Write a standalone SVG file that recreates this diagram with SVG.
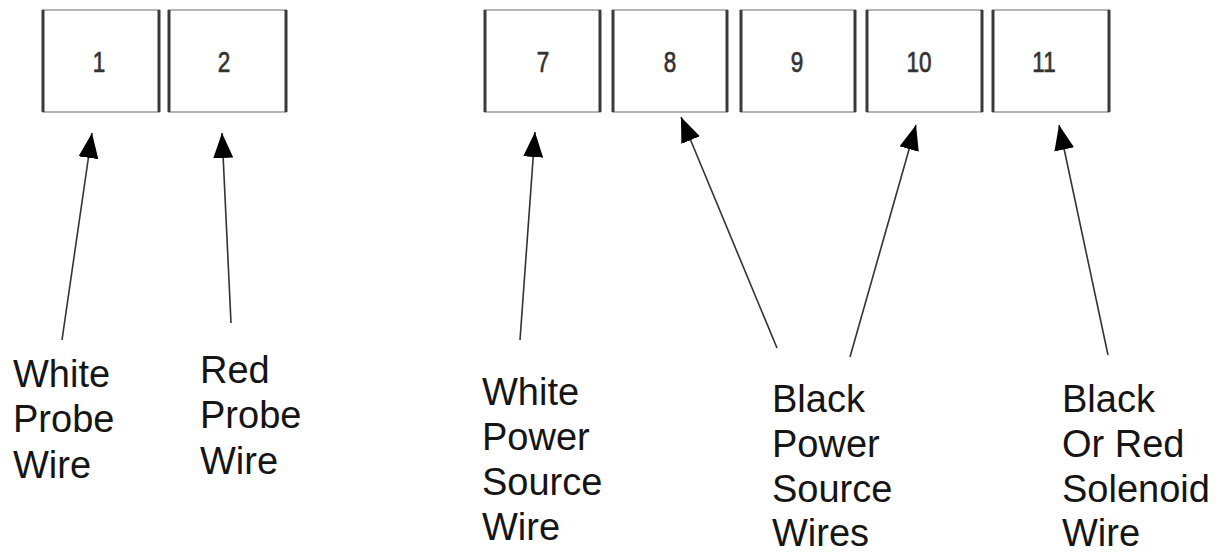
<svg xmlns="http://www.w3.org/2000/svg" width="1227" height="552" viewBox="0 0 1227 552">
  <style>
    .frame { fill: #ffffff; stroke: #b4b4b4; stroke-width: 2; }
    .side { stroke: #3a3a3a; stroke-width: 3; }
    .num { font-family: "Liberation Sans", Arial, sans-serif; font-size: 30px; fill: #333333; stroke: #333333; stroke-width: 0.7; text-anchor: middle; }
    .label { font-family: "Liberation Sans", Arial, sans-serif; font-size: 38px; fill: #151515; }
    .wire { stroke: #333333; stroke-width: 1.6; fill: none; marker-end: url(#head); }
  </style>
  <defs>
    <marker id="head" markerUnits="userSpaceOnUse" markerWidth="26" markerHeight="20" refX="25" refY="10" orient="auto">
      <path d="M0,0 L25,10 L0,20 Z" fill="#000000"/>
    </marker>
  </defs>
  <rect width="1227" height="552" fill="#ffffff"/>

  <!-- terminal blocks -->
  <g id="t1">
    <rect class="frame" x="43" y="10" width="116" height="102"/>
    <line class="side" x1="43" y1="10" x2="43" y2="112"/>
    <line class="side" x1="159" y1="10" x2="159" y2="112"/>
    <text class="num" transform="translate(99,72) scale(0.75,1)">1</text>
  </g>
  <g id="t2">
    <rect class="frame" x="169" y="10" width="117" height="102"/>
    <line class="side" x1="169" y1="10" x2="169" y2="112"/>
    <line class="side" x1="286" y1="10" x2="286" y2="112"/>
    <text class="num" transform="translate(224,72) scale(0.75,1)">2</text>
  </g>
  <g id="t7">
    <rect class="frame" x="485" y="10" width="115" height="102"/>
    <line class="side" x1="485" y1="10" x2="485" y2="112"/>
    <line class="side" x1="600" y1="10" x2="600" y2="112"/>
    <text class="num" transform="translate(543,72) scale(0.75,1)">7</text>
  </g>
  <g id="t8">
    <rect class="frame" x="613" y="10" width="114" height="102"/>
    <line class="side" x1="613" y1="10" x2="613" y2="112"/>
    <line class="side" x1="727" y1="10" x2="727" y2="112"/>
    <text class="num" transform="translate(670,72) scale(0.75,1)">8</text>
  </g>
  <g id="t9">
    <rect class="frame" x="741" y="10" width="114" height="102"/>
    <line class="side" x1="741" y1="10" x2="741" y2="112"/>
    <line class="side" x1="855" y1="10" x2="855" y2="112"/>
    <text class="num" transform="translate(797,72) scale(0.75,1)">9</text>
  </g>
  <g id="t10">
    <rect class="frame" x="867" y="10" width="115" height="102"/>
    <line class="side" x1="867" y1="10" x2="867" y2="112"/>
    <line class="side" x1="982" y1="10" x2="982" y2="112"/>
    <text class="num" transform="translate(919,72) scale(0.75,1)">10</text>
  </g>
  <g id="t11">
    <rect class="frame" x="993" y="10" width="116" height="102"/>
    <line class="side" x1="993" y1="10" x2="993" y2="112"/>
    <line class="side" x1="1109" y1="10" x2="1109" y2="112" stroke="#6a6a6a"/>
    <text class="num" transform="translate(1044,72) scale(0.75,1)">11</text>
  </g>

  <!-- wire labels -->
  <g id="lbl-white-probe">
    <text class="label" x="13" y="387">White</text>
    <text class="label" x="13" y="432">Probe</text>
    <text class="label" x="13" y="478">Wire</text>
  </g>
  <g id="lbl-red-probe">
    <text class="label" x="200" y="383">Red</text>
    <text class="label" x="200" y="428">Probe</text>
    <text class="label" x="200" y="474">Wire</text>
  </g>
  <g id="lbl-white-power">
    <text class="label" x="482" y="405">White</text>
    <text class="label" x="482" y="450">Power</text>
    <text class="label" x="482" y="495">Source</text>
    <text class="label" x="482" y="540">Wire</text>
  </g>
  <g id="lbl-black-power">
    <text class="label" x="772" y="412">Black</text>
    <text class="label" x="772" y="457">Power</text>
    <text class="label" x="772" y="502">Source</text>
    <text class="label" x="772" y="546">Wires</text>
  </g>
  <g id="lbl-solenoid">
    <text class="label" x="1062" y="412">Black</text>
    <text class="label" x="1062" y="457">Or Red</text>
    <text class="label" x="1062" y="502">Solenoid</text>
    <text class="label" x="1062" y="546">Wire</text>
  </g>

  <!-- connectors -->
  <g id="connectors">
    <line class="wire" x1="62" y1="340" x2="92" y2="133"/>
    <line class="wire" x1="231" y1="323" x2="222" y2="133"/>
    <line class="wire" x1="520" y1="340" x2="535" y2="132"/>
    <line class="wire" x1="777" y1="348" x2="681" y2="117"/>
    <line class="wire" x1="850" y1="357" x2="916" y2="125"/>
    <line class="wire" x1="1108" y1="355" x2="1059" y2="125"/>
  </g>
</svg>
